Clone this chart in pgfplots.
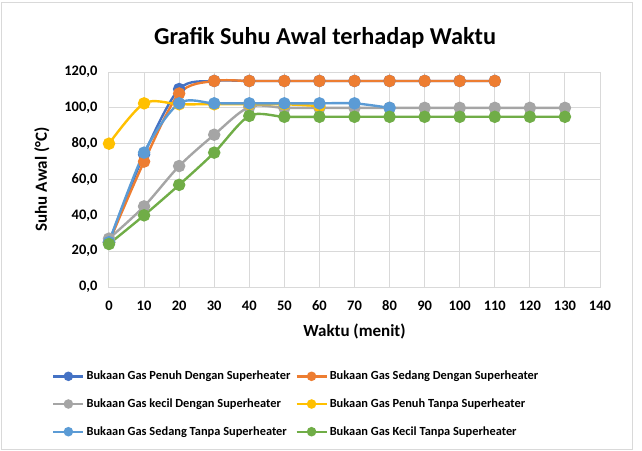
\documentclass[border=0pt]{standalone}
\usepackage{pgfplots}
\pgfplotsset{compat=1.18}
\usepackage{fontspec}
\setmainfont{Carlito}
\definecolor{cA}{HTML}{4472C4}
\definecolor{cB}{HTML}{ED7D31}
\definecolor{cC}{HTML}{A5A5A5}
\definecolor{cD}{HTML}{FFC000}
\definecolor{cE}{HTML}{5B9BD5}
\definecolor{cF}{HTML}{70AD47}
\definecolor{gridc}{HTML}{D9D9D9}
\begin{document}
\begin{tikzpicture}[x=1pt,y=1pt]
\useasboundingbox (-109,-163) rectangle (533,287);
\draw[gridc,line width=0.8pt] (-108,-162) rectangle (523,285);
\begin{axis}[
  at={(0,0)}, anchor=south west,
  scale only axis, width=491pt, height=215pt,
  xmin=0, xmax=140, ymin=0, ymax=120,
  xtick={0,10,...,140}, ytick={0,20,...,120},
  grid=major, grid style={gridc, line width=1pt},
  axis line style={gridc, line width=1pt},
  tick style={draw=none},
  /pgf/number format/assume math mode=true,
  yticklabel style={/pgf/number format/.cd, fixed, fixed zerofill, precision=1, use comma, /tikz/.cd, xshift=-8pt},
  xticklabel style={/pgf/number format/.cd, fixed, /tikz/.cd, yshift=-10pt},
  ticklabel style={font=\bfseries\fontsize{14.5}{16}\selectfont, text=black},
  title={\bfseries Grafik Suhu Awal terhadap Waktu},
  title style={font=\bfseries\fontsize{24.3}{27}\selectfont, at={(0.44,1)}, yshift=14pt},
  xlabel={Waktu (menit)}, ylabel={Suhu Awal (°C)},
  label style={font=\bfseries\fontsize{17}{19}\selectfont, text=black},
  xlabel style={yshift=-6pt},
  ylabel style={yshift=8pt},
  legend columns=2,
  legend cell align=left,
  legend style={at={(-57pt,-82pt)}, anchor=north west, draw=none, fill=none,
    font=\bfseries\fontsize{12.4}{14}\selectfont, text=black,
    /tikz/every even column/.append style={column sep=3pt},
    row sep=13.5pt, inner sep=0pt},
  legend image code/.code={
    \draw[#1, line width=2.4pt, mark repeat=2, mark phase=2, mark size=3.5pt] plot coordinates {(0pt,0pt) (15pt,0pt) (30pt,0pt)};},
  every axis plot/.append style={line width=2.4pt, smooth, tension=0.5, mark=*, mark size=5pt},
]
\addplot[cA, mark options={fill=cA}] coordinates {(0,25) (10,74) (20,110.5) (30,115) (40,115) (50,115) (60,115) (70,115) (80,115) (90,115) (100,115) (110,115)};
\addlegendentry{Bukaan Gas Penuh Dengan Superheater}
\addplot[cB, mark options={fill=cB}] coordinates {(0,25) (10,70) (20,108) (30,115) (40,115) (50,115) (60,115) (70,115) (80,115) (90,115) (100,115) (110,115)};
\addlegendentry{Bukaan Gas Sedang Dengan Superheater}
\addplot[cC, mark options={fill=cC}] coordinates {(0,27) (10,45) (20,67.5) (30,85) (40,100.5) (50,100) (60,100) (70,100) (80,100) (90,100) (100,100) (110,100) (120,100) (130,100)};
\addlegendentry{Bukaan Gas kecil Dengan Superheater}
\addplot[cD, mark options={fill=cD}] coordinates {(0,80) (10,102.5) (20,102) (30,102) (40,102) (50,102) (60,101)};
\addlegendentry{Bukaan Gas Penuh Tanpa Superheater}
\addplot[cE, mark options={fill=cE}] coordinates {(0,25) (10,75) (20,102.5) (30,102.5) (40,102.5) (50,102.5) (60,102.5) (70,102.5) (80,100)};
\addlegendentry{Bukaan Gas Sedang Tanpa Superheater}
\addplot[cF, mark options={fill=cF}] coordinates {(0,24) (10,40) (20,57) (30,75) (40,95.5) (50,95) (60,95) (70,95) (80,95) (90,95) (100,95) (110,95) (120,95) (130,95)};
\addlegendentry{Bukaan Gas Kecil Tanpa Superheater}
\end{axis}
\end{tikzpicture}
\end{document}
